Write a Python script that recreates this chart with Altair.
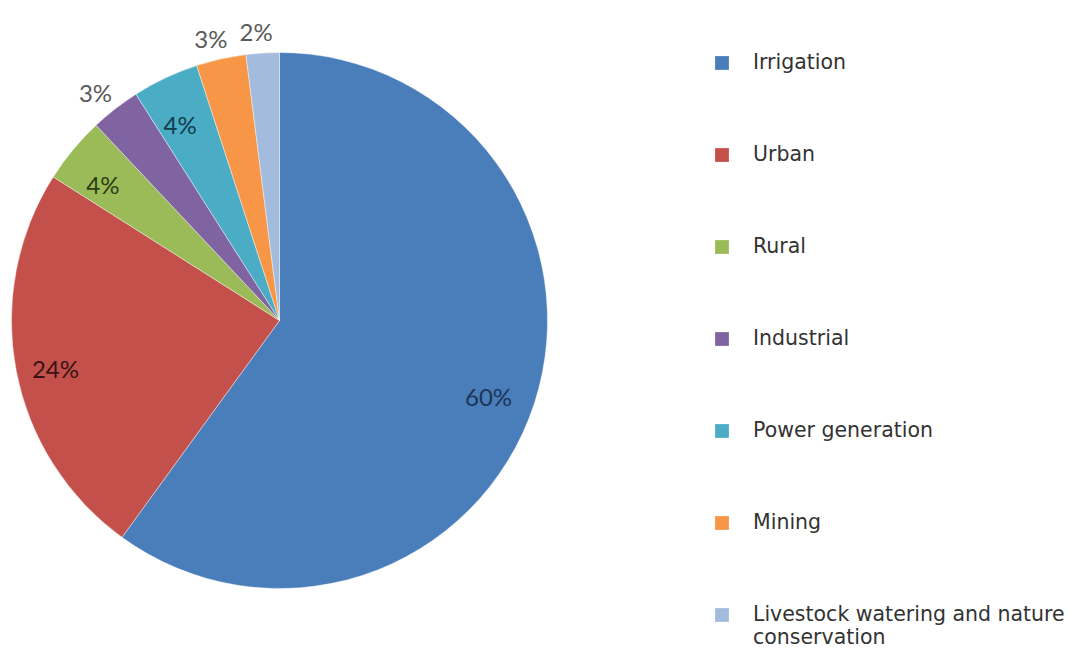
import altair as alt
import pandas as pd

categories = ["Irrigation", "Urban", "Rural", "Industrial", "Power generation",
              "Mining", "Livestock watering and nature conservation"]
legend_labels = ["Irrigation", "Urban", "Rural", "Industrial", "Power generation",
                 "Mining", "Livestock watering and nature\nconservation"]
values = [60, 24, 4, 3, 4, 3, 2]

fill_colors = ["#4A7EBB", "#C4504B", "#9BBB59", "#8064A2", "#4BACC6", "#F79646", "#A3BCDD"]
text_colors = ["#1C3556", "#3A1312", "#2E3C14", "#5A5A5A", "#123C4A", "#5A5A5A", "#5A5A5A"]

df = pd.DataFrame({
    "category": categories,
    "legend": legend_labels,
    "value": values,
    "order": list(range(len(categories))),
})

W, H = 1072, 641
CX, CY = 271.5, 312.5
R = 268

base = alt.Chart(df)

pie = base.mark_arc(outerRadius=R, stroke="#ffffff", strokeWidth=0.8, strokeOpacity=0.5).encode(
    theta=alt.Theta("value:Q", stack=True),
    order=alt.Order("order:Q"),
    color=alt.Color("category:N", scale=alt.Scale(domain=categories, range=fill_colors), legend=None),
    x=alt.value(CX), y=alt.value(CY),
)


def label_layer(expr, radius, dx, dy):
    return base.transform_calculate(label=expr).mark_text(
        font="Lato", fontSize=24, align="center", baseline="middle", radius=radius, dx=dx, dy=dy
    ).encode(
        theta=alt.Theta("value:Q", stack=True),
        order=alt.Order("order:Q"),
        text="label:N",
        color=alt.Color("category:N", scale=alt.Scale(domain=categories, range=text_colors), legend=None),
        x=alt.value(CX), y=alt.value(CY),
    )


inside_text = label_layer("datum.value >= 4 ? datum.value + '%' : ''", 224, -4, 9)
outside_text = label_layer("datum.value < 4 ? datum.value + '%' : ''", 292, -5, 5)

yscale = alt.Scale(type="point", domain=categories, range=[55, 607], padding=0)

leg_sq = base.mark_square(size=190, opacity=1).encode(
    x=alt.value(714),
    y=alt.Y("category:N", scale=yscale, axis=None),
    color=alt.Color("category:N", scale=alt.Scale(domain=categories, range=fill_colors), legend=None),
)

leg_text = base.mark_text(font="DejaVu Sans", fontSize=20.5, align="left", baseline="middle",
                          color="#333333", lineBreak="\n", lineHeight=23).encode(
    x=alt.value(745),
    y=alt.Y("category:N", scale=yscale, axis=None),
    text="legend:N",
)

chart = alt.layer(pie, inside_text, outside_text, leg_sq, leg_text).resolve_scale(
    color="independent"
).properties(
    width=W, height=H, padding=0, autosize=alt.AutoSizeParams(type="none"),
).configure_view(stroke=None)

chart.save("out.html", embed_options={"renderer": "svg", "actions": False})
